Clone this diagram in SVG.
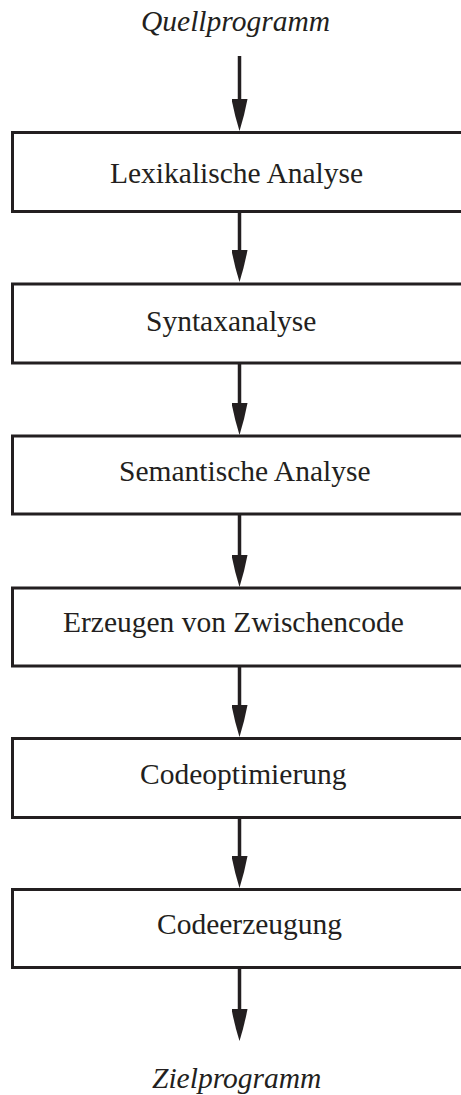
<svg xmlns="http://www.w3.org/2000/svg" width="461" height="1095" viewBox="0 0 461 1095">
<style>
.box{fill:#fff;stroke:#231f20;stroke-width:3}
.lbl{font-family:"Liberation Serif","Times New Roman",serif;font-size:29.5px;fill:#231f20}
.it{font-style:italic}
.con{stroke:#231f20;stroke-width:3.5;fill:none;marker-end:url(#ah)}
</style>
<defs>
<marker id="ah" markerUnits="userSpaceOnUse" viewBox="0 0 32 16" markerWidth="32" markerHeight="16" refX="16" refY="8" orient="auto">
<path d="M0,0 Q16,3 32,8 Q16,13 0,16 z" fill="#231f20"/>
</marker>
</defs>
<rect width="461" height="1095" fill="#fff"/>
<g id="connectors">
<line class="con" x1="239.5" y1="56" x2="239.5" y2="115"/>
<line class="con" x1="239.5" y1="208" x2="239.5" y2="266"/>
<line class="con" x1="239.5" y1="360" x2="239.5" y2="419"/>
<line class="con" x1="239.5" y1="508" x2="239.5" y2="571"/>
<line class="con" x1="239.5" y1="661" x2="239.5" y2="721"/>
<line class="con" x1="239.5" y1="814" x2="239.5" y2="872"/>
<line class="con" x1="239.5" y1="963" x2="239.5" y2="1025"/>
</g>
<g id="source"><text class="lbl it" x="141" y="31">Quellprogramm</text></g>
<g id="lex"><rect class="box" x="12.5" y="132.5" width="460" height="79"/><text class="lbl" x="110" y="183">Lexikalische Analyse</text></g>
<g id="syn"><rect class="box" x="12.5" y="284" width="460" height="79"/><text class="lbl" x="146" y="331">Syntaxanalyse</text></g>
<g id="sem"><rect class="box" x="12.5" y="436" width="460" height="78"/><text class="lbl" x="119" y="481">Semantische Analyse</text></g>
<g id="ir"><rect class="box" x="12.5" y="588" width="460" height="78"/><text class="lbl" x="63" y="632">Erzeugen von Zwischencode</text></g>
<g id="opt"><rect class="box" x="12.5" y="738.5" width="460" height="79"/><text class="lbl" x="140" y="784">Codeoptimierung</text></g>
<g id="gen"><rect class="box" x="12.5" y="889.5" width="460" height="78"/><text class="lbl" x="157" y="934">Codeerzeugung</text></g>
<g id="target"><text class="lbl it" x="152" y="1088">Zielprogramm</text></g>
</svg>
